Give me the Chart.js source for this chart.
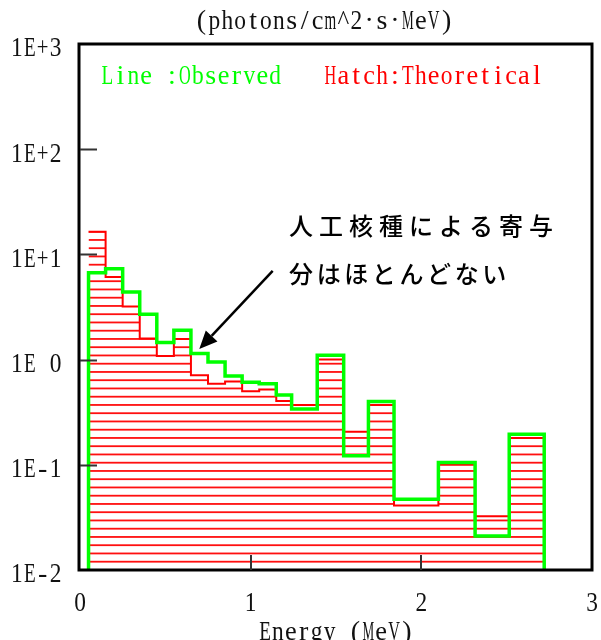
<!DOCTYPE html>
<html>
<head>
<meta charset="utf-8">
<script src="https://cdn.jsdelivr.net/npm/chart.js@4"></script>
<style>
  html, body { margin: 0; padding: 0; background: #fff; }
  #wrap { width: 601px; height: 640px; }
</style>
</head>
<body>
<div id="wrap"><canvas id="c" width="601" height="640"></canvas></div>
<script>
// Energy bin edges (MeV) and spectra (photons/cm^2·s·MeV)
const binEdges = [0.05, 0.15, 0.25, 0.35, 0.45, 0.55, 0.65, 0.75, 0.85, 0.95, 1.05,
                  1.15, 1.24, 1.39, 1.545, 1.69, 1.84, 2.1, 2.315, 2.515, 2.72];
const observed = [6.7, 7.3, 4.4, 2.7, 1.45, 1.9, 1.14, 0.95, 0.70, 0.61, 0.59,
                  0.46, 0.34, 1.10, 0.122, 0.40, 0.047, 0.105, 0.021, 0.195];
const theoretical = [16.4, 6.1, 3.2, 1.59, 1.08, 1.57, 0.71, 0.59, 0.62, 0.50, 0.52,
                     0.405, 0.37, 1.0, 0.206, 0.37, 0.041, 0.10, 0.0325, 0.18];

const xTickValues = [0, 1, 2, 3];
const xTickLabels = ['0', '1', '2', '3'];
const yTickValues = [1000, 100, 10, 1, 0.1, 0.01];
const yTickLabels = ['1E+3', '1E+2', '1E+1', '1E 0', '1E-1', '1E-2'];

const unitTitle = '(photons/cm^2·s·MeV)';
const xAxisTitle = 'Energy (MeV)';
const legendObserved = 'Line :Observed';
const legendTheoretical = 'Hatch:Theoretical';
const noteLines = ['人工核種による寄与', '分はほとんどない'];
// note anchor and arrow, in data coordinates (energy, flux)
const noteAt = { x: 1.225, y: 18.5 };
const arrowFrom = { x: 1.129, y: 6.97 };
const arrowTo = { x: 0.699, y: 1.26 };

const yMin = 0.01, yMax = 1000;

// histogram outline as stepped points; optionally closed down to the axis floor
function histPoints(values, closed) {
  const pts = [];
  if (closed) pts.push({ x: binEdges[0], y: yMin });
  values.forEach((v, i) => pts.push({ x: binEdges[i], y: v }));
  pts.push({ x: binEdges[binEdges.length - 1], y: values[values.length - 1] });
  if (closed) pts.push({ x: binEdges[binEdges.length - 1], y: yMin });
  return pts;
}

const canvas = document.getElementById('c');
const mainCtx = canvas.getContext('2d');

// horizontal red hatching
function makeHatch() {
  const p = document.createElement('canvas');
  p.width = 8; p.height = 33;
  const g = p.getContext('2d');
  g.fillStyle = '#ff1010';
  [2.7, 10.95, 19.2, 27.45].forEach(c => g.fillRect(0, c - 0.9, 8, 1.8));
  const pat = mainCtx.createPattern(p, 'repeat');
  if (pat.setTransform) pat.setTransform(new DOMMatrix().translate(0, -2));
  return pat;
}

function monoText(c, str, x, y, color, align, adv, size) {
  adv = adv || 12.9; size = size || 28;
  c.save();
  c.font = size + 'px "Liberation Serif"';
  c.fillStyle = color;
  c.textBaseline = 'middle';
  c.textAlign = 'center';
  const total = adv * str.length;
  const x0 = align === 'right' ? x - total : align === 'center' ? x - total / 2 : x;
  for (let i = 0; i < str.length; i++) {
    const ch = str[i];
    if (ch === ' ') continue;
    const w = c.measureText(ch).width;
    const sx = Math.min(1, (adv - 1.2) / w);
    c.save();
    c.translate(x0 + adv * (i + 0.5), y);
    c.scale(sx, 1);
    c.fillText(ch, 0, 0);
    c.restore();
  }
  c.restore();
}

function cjkText(c, str, x, y, adv) {
  c.save();
  c.font = '500 24px "Noto Sans CJK JP"';
  c.fillStyle = '#000';
  c.textBaseline = 'middle';
  c.textAlign = 'left';
  for (let i = 0; i < str.length; i++) c.fillText(str[i], x + adv * i, y);
  c.restore();
}

const decorations = {
  id: 'decorations',
  afterDraw(chart) {
    const c = chart.ctx;
    const xs = chart.scales.x, ys = chart.scales.y;
    const a = chart.chartArea;

    // frame
    c.save();
    c.strokeStyle = '#000';
    c.lineWidth = 3;
    c.strokeRect(a.left - 1, a.top, a.right - a.left + 1, a.bottom - a.top);

    // inward tick marks
    c.strokeStyle = '#333';
    c.lineWidth = 2;
    c.beginPath();
    yTickValues.forEach(v => {
      if (v === yMin || v === yMax) return;
      const py = Math.round(ys.getPixelForValue(v)) + 0.5;
      c.moveTo(a.left, py); c.lineTo(a.left + 17, py);
    });
    xTickValues.forEach(v => {
      if (v === xs.min || v === xs.max) return;
      const px = Math.round(xs.getPixelForValue(v));
      c.moveTo(px, a.bottom); c.lineTo(px, a.bottom - 15);
    });
    c.stroke();
    c.restore();

    // tick labels
    yTickValues.forEach((v, i) => {
      monoText(c, yTickLabels[i], 62, ys.getPixelForValue(v) + 5, '#111', 'right');
    });
    xTickValues.forEach((v, i) => {
      monoText(c, xTickLabels[i], xs.getPixelForValue(v), 604, '#111', 'center');
    });

    // titles
    monoText(c, unitTitle, 324, 22, '#111', 'center');
    monoText(c, xAxisTitle, 336, 633, '#111', 'center');

    // legend text
    monoText(c, legendObserved, 101, 77, '#00ff00', 'left');
    monoText(c, legendTheoretical, 324, 77, '#ff0000', 'left');

    // note with arrow
    const nx = xs.getPixelForValue(noteAt.x), ny = ys.getPixelForValue(noteAt.y);
    cjkText(c, noteLines[0], nx, ny, 30);
    cjkText(c, noteLines[1], nx, ny + 48, 27.6);

    const x1 = xs.getPixelForValue(arrowFrom.x), y1 = ys.getPixelForValue(arrowFrom.y);
    const x2 = xs.getPixelForValue(arrowTo.x), y2 = ys.getPixelForValue(arrowTo.y);
    const ang = Math.atan2(y2 - y1, x2 - x1);
    const headLen = 18, headHalf = 8;
    const bx = x2 - headLen * Math.cos(ang), by = y2 - headLen * Math.sin(ang);
    c.save();
    c.strokeStyle = '#000';
    c.fillStyle = '#000';
    c.lineWidth = 2.5;
    c.beginPath(); c.moveTo(x1, y1); c.lineTo(bx, by); c.stroke();
    c.beginPath();
    c.moveTo(x2, y2);
    c.lineTo(bx + headHalf * Math.sin(ang), by - headHalf * Math.cos(ang));
    c.lineTo(bx - headHalf * Math.sin(ang), by + headHalf * Math.cos(ang));
    c.closePath(); c.fill();
    c.restore();
  }
};

new Chart(canvas, {
  type: 'line',
  data: {
    datasets: [
      {
        label: 'Observed',
        data: histPoints(observed, true),
        borderColor: '#00ff00',
        borderWidth: 3.5,
        stepped: 'before',
        pointRadius: 0,
        fill: false,
        order: 0
      },
      {
        label: 'Theoretical',
        data: histPoints(theoretical, false),
        borderColor: '#ff0000',
        borderWidth: 2,
        stepped: 'before',
        pointRadius: 0,
        fill: 'start',
        backgroundColor: makeHatch(),
        order: 1
      }
    ]
  },
  options: {
    responsive: false,
    animation: false,
    devicePixelRatio: 1,
    layout: { padding: { top: 44, right: 9, left: 0, bottom: 0 } },
    plugins: { legend: { display: false }, tooltip: { enabled: false }, title: { display: false } },
    scales: {
      x: {
        type: 'linear', min: 0, max: 3,
        grid: { display: false }, border: { display: false },
        ticks: { display: false },
        afterFit(s) { s.height = 70; }
      },
      y: {
        type: 'logarithmic', min: yMin, max: yMax,
        grid: { display: false }, border: { display: false },
        ticks: { display: false },
        afterFit(s) { s.width = 80; }
      }
    }
  },
  plugins: [decorations]
});
</script>
</body>
</html>
